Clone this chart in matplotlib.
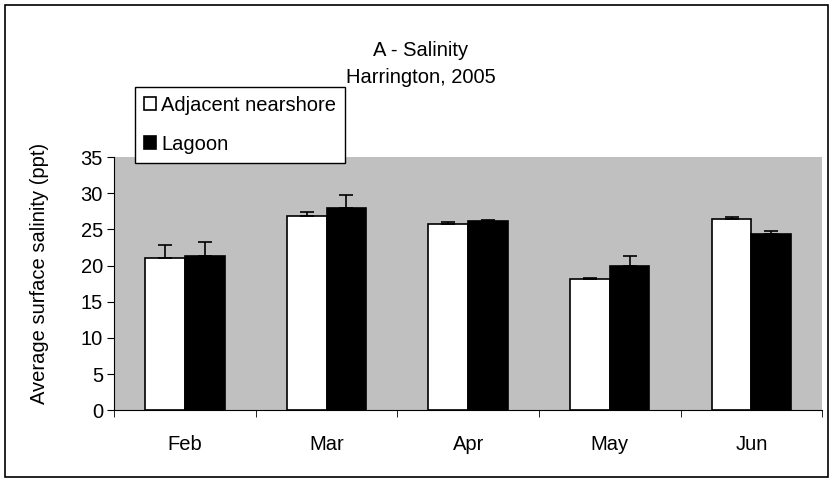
import numpy as np
import matplotlib.pyplot as plt
from matplotlib.patches import Rectangle

months = ["Feb", "Mar", "Apr", "May", "Jun"]
nearshore = [21.0, 26.9, 25.8, 18.2, 26.5]
nearshore_err = [1.8, 0.5, 0.2, 0.05, 0.2]
lagoon = [21.3, 28.0, 26.1, 20.0, 24.3]
lagoon_err = [2.0, 1.8, 0.15, 1.3, 0.5]

plt.rcParams['font.family'] = ['Liberation Sans', 'DejaVu Sans']
fs = 14.5

fig = plt.figure(figsize=(8.33, 4.82), dpi=100)
fig.patches.append(Rectangle((0.006, 0.01), 0.988, 0.98, transform=fig.transFigure,
                             fill=False, edgecolor='black', linewidth=1.2))

ax = fig.add_axes([0.137, 0.149, 0.850, 0.525])
ax.set_facecolor('#C0C0C0')

x = np.arange(len(months))
w = 0.28
ax.bar(x - w/2, nearshore, w, color='white', edgecolor='black', linewidth=1.2,
       yerr=[np.zeros(5), nearshore_err], capsize=5,
       error_kw=dict(elinewidth=1.2, capthick=1.2), label='Adjacent nearshore')
ax.bar(x + w/2, lagoon, w, color='black', edgecolor='black', linewidth=1.2,
       yerr=[np.zeros(5), lagoon_err], capsize=5,
       error_kw=dict(elinewidth=1.2, capthick=1.2), label='Lagoon')

ax.set_xlim(-0.5, 4.5)
ax.set_ylim(0, 35)
ax.set_yticks(range(0, 36, 5))
ax.set_xticks(x)
ax.set_xticklabels(months)
ax.set_xticks(np.arange(-0.5, 5, 1), minor=True)
ax.tick_params(axis='x', which='major', length=0, pad=18, labelsize=fs)
ax.tick_params(axis='x', which='minor', length=5, direction='out', color='black')
ax.tick_params(axis='y', length=5, direction='out', labelsize=fs, pad=3)
for s in ['top', 'right']:
    ax.spines[s].set_visible(False)
ax.spines['left'].set_color('black')
ax.spines['bottom'].set_color('black')
ax.set_ylabel('Average surface salinity (ppt)', fontsize=fs)
ax.yaxis.set_label_coords(-0.092, 0.54)

fig.text(0.505, 0.896, 'A - Salinity', ha='center', va='center', fontsize=fs)
fig.text(0.505, 0.840, 'Harrington, 2005', ha='center', va='center', fontsize=fs)

leg = fig.legend(loc='upper left', bbox_to_anchor=(0.162, 0.82), fontsize=fs,
                 frameon=True, fancybox=False, edgecolor='black', framealpha=1,
                 handlelength=0.6, handleheight=0.6, handletextpad=0.25,
                 borderpad=0.45, labelspacing=1.0, borderaxespad=0)
leg.get_frame().set_linewidth(1.0)

fig.savefig('out.png', dpi=100)
